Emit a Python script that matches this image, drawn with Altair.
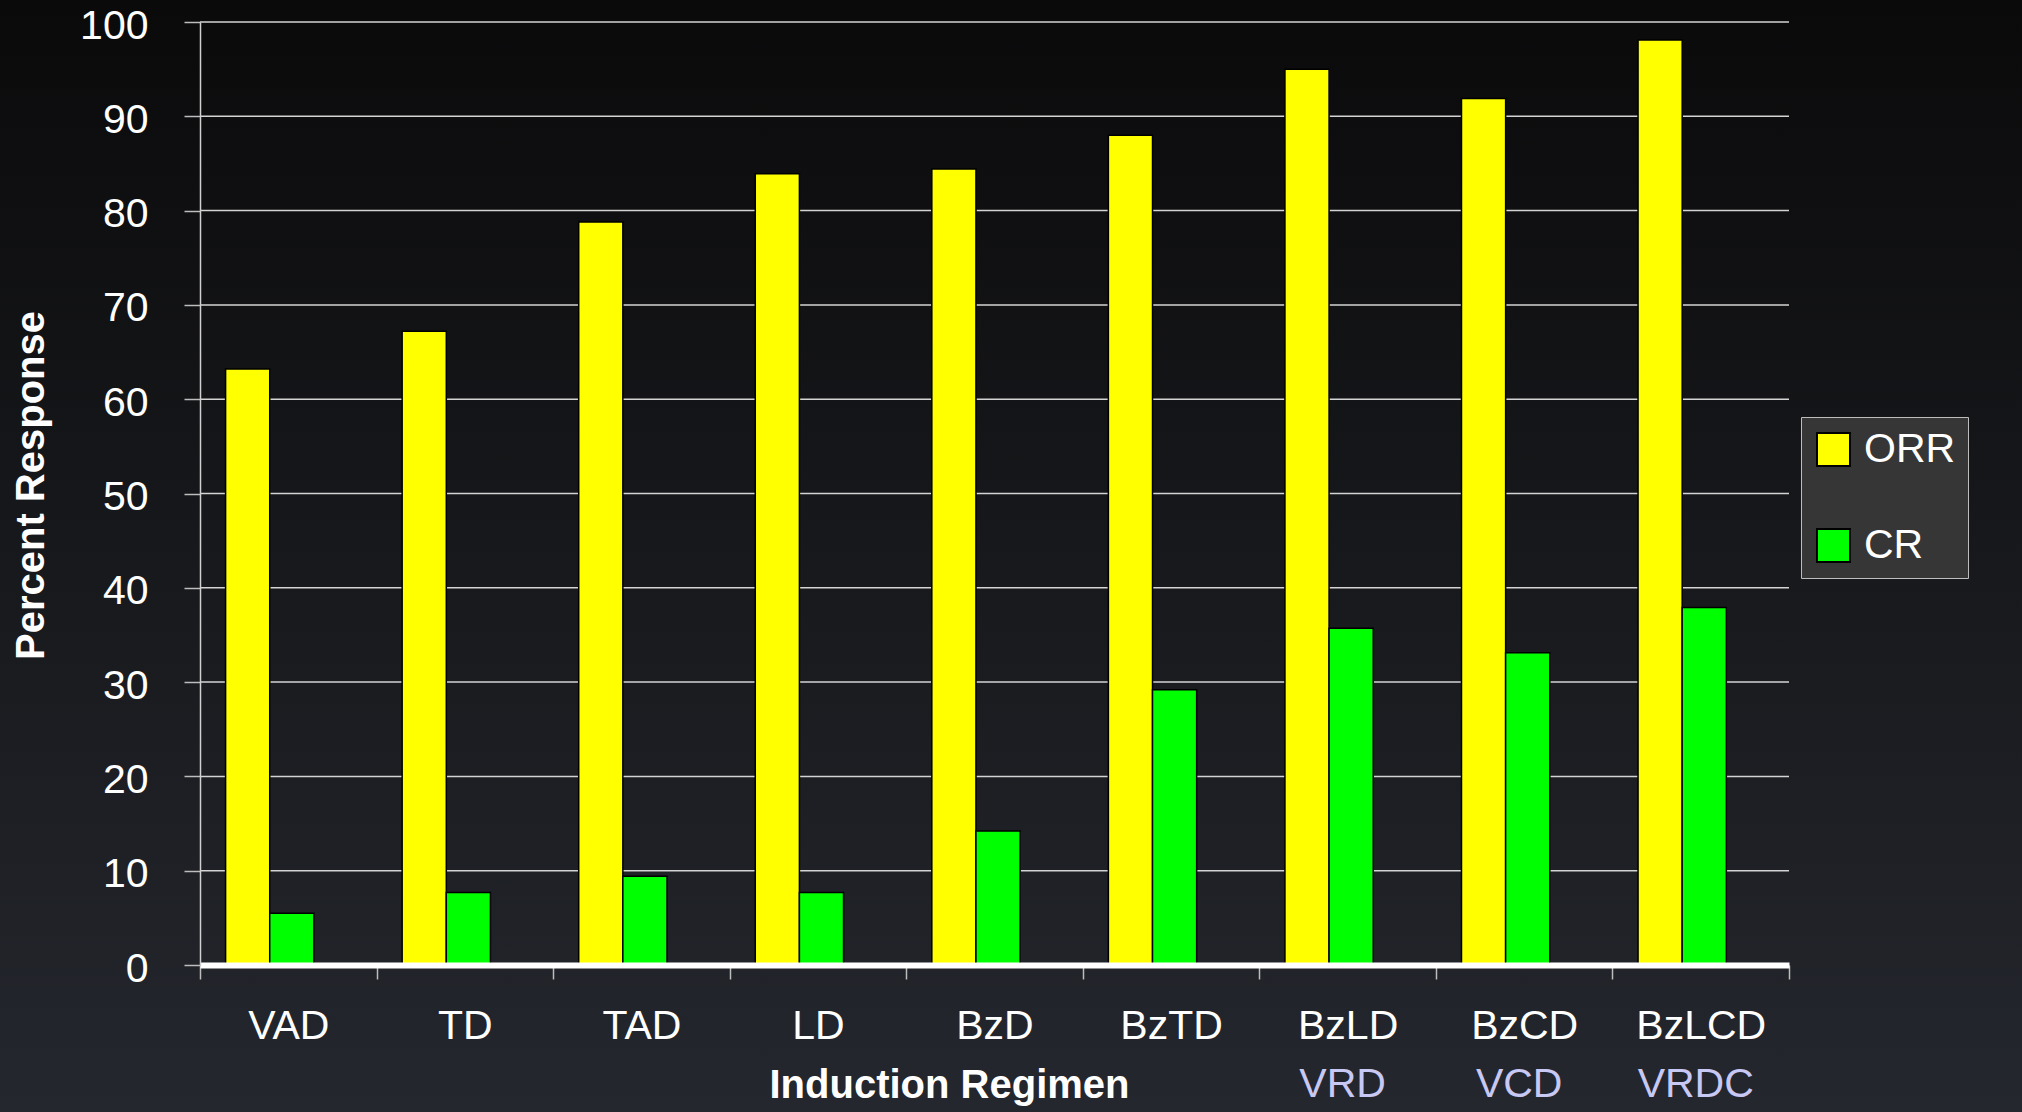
import altair as alt
import pandas as pd

# Induction regimens and their response rates (%)
regimens = ["VAD", "TD", "TAD", "LD", "BzD", "BzTD", "BzLD", "BzCD", "BzLCD"]
orr = [63.2, 67.2, 78.8, 83.9, 84.4, 88.0, 95.0, 91.9, 98.1]
cr = [5.5, 7.7, 9.4, 7.7, 14.2, 29.2, 35.7, 33.1, 37.9]
series = ["ORR", "CR"]
series_colors = ["#ffff00", "#00ff00"]

# Alternate names printed under some regimens
alias_regimens = ["BzLD", "BzCD", "BzLCD"]
alias_names = ["VRD", "VCD", "VRDC"]

# Horizontal reference lines
grid_values = [10, 20, 30, 40, 50, 60, 70, 80, 90, 100]

FONT = "Liberation Sans"
W, H = 1589, 943

rows = []
for i, r in enumerate(regimens):
    rows.append({"regimen": r, "series": "ORR", "value": orr[i]})
    rows.append({"regimen": r, "series": "CR", "value": cr[i]})
df = pd.DataFrame(rows)
alias_df = pd.DataFrame({"regimen": alias_regimens, "alias": alias_names})
grid_df = pd.DataFrame({"value": grid_values})

x_scale = alt.Scale(domain=regimens, paddingInner=0, paddingOuter=0)
y_scale = alt.Scale(domain=[0, 100], nice=False)

x_axis = alt.Axis(
    labelAngle=0,
    tickBand="extent",
    domainColor="white",
    domainWidth=6,
    tickColor="#bdbdbd",
    tickWidth=1.5,
    tickSize=14,
    labelPadding=27,
    labelFontSize=41,
    labelFont=FONT,
    labelColor="white",
    titleFont=FONT,
    titleFontSize=40,
    titleFontWeight="bold",
    titleColor="white",
    titleX=749,
    titleY=132,
    titleBaseline="alphabetic",
    grid=False,
    zindex=1,
)

y_axis = alt.Axis(
    values=list(range(0, 101, 10)),
    domainColor="#d0d0d0",
    domainWidth=1.5,
    tickColor="#bdbdbd",
    tickWidth=1.5,
    tickSize=16,
    labelPadding=36,
    labelOffset=4,
    labelFontSize=41,
    labelFont=FONT,
    labelColor="white",
    titleFont=FONT,
    titleFontSize=40,
    titleFontWeight="bold",
    titleColor="white",
    titlePadding=28,
    titleY=463,
    grid=False,
    zindex=1,
)

# dark slide backdrop, fading from black at the top to slate at the bottom
backdrop = alt.Chart(pd.DataFrame({"a": [0]})).mark_rect(
    fill=alt.LinearGradient(
        gradient="linear",
        x1=0, x2=0, y1=0, y2=1,
        stops=[
            alt.GradientStop(color="#0a0a0b", offset=0),
            alt.GradientStop(color="#16171a", offset=0.45),
            alt.GradientStop(color="#24272e", offset=1),
        ],
    )
).encode(
    x=alt.value(-200), x2=alt.value(W + 233),
    y=alt.value(-22), y2=alt.value(H + 147),
)

grid = alt.Chart(grid_df).mark_rule(color="#d4d4d4", strokeWidth=1.5).encode(
    y=alt.Y("value:Q", scale=y_scale, axis=y_axis, title="Percent Response")
)

bars = alt.Chart(df).mark_bar(stroke="black", strokeWidth=1.5).encode(
    x=alt.X("regimen:N", scale=x_scale, sort=regimens,
            title="Induction Regimen", axis=x_axis),
    xOffset=alt.XOffset(
        "series:N",
        scale=alt.Scale(domain=series, paddingInner=0, paddingOuter=1, align=0.29),
    ),
    y=alt.Y("value:Q", scale=y_scale, title="Percent Response", axis=y_axis),
    color=alt.Color(
        "series:N",
        scale=alt.Scale(domain=series, range=series_colors),
        legend=alt.Legend(
            title=None,
            orient="none",
            legendX=1601,
            legendY=395,
            fillColor="#363636",
            strokeColor="#bdbdbd",
            padding=12,
            symbolType="square",
            symbolSize=1089,
            symbolStrokeColor="black",
            symbolStrokeWidth=2,
            labelFontSize=41,
            labelFont=FONT,
            labelColor="white",
            labelOffset=10,
            rowPadding=54,
        ),
    ),
)

aliases = alt.Chart(alias_df).mark_text(
    font=FONT, fontSize=41, color="#c8c8f5", baseline="alphabetic", dx=-5
).encode(
    x=alt.X("regimen:N", scale=x_scale, title="Induction Regimen", axis=x_axis),
    y=alt.value(H + 132),
    text="alias:N",
)

chart = alt.layer(backdrop, grid, bars, aliases).properties(
    width=W,
    height=H,
    autosize=alt.AutoSizeParams(type="none"),
    padding={"left": 200, "top": 22, "right": 233, "bottom": 147},
    background="#17181b",
).configure_view(stroke=None)

chart.save("out.html", embed_options={"renderer": "svg", "actions": False})
